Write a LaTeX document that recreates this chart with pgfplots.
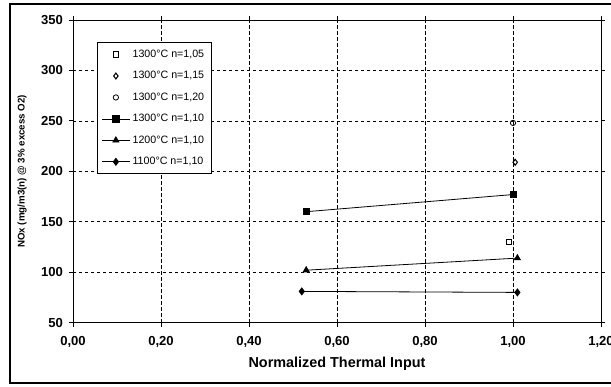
\documentclass[border=0pt]{standalone}
\usepackage{pgfplots}
\pgfplotsset{compat=1.18}
\usepackage{fontspec}
\setmainfont{Liberation Sans}
\begin{document}
\begin{tikzpicture}
\useasboundingbox (-54.75pt,-48pt) rectangle (403.5pt,242pt);
\draw[line width=1.3pt] (-47.5pt,-45pt) rectangle (420pt,239pt);
\begin{axis}[
  scale only axis, width=396pt, height=227pt,
  xmin=0, xmax=1.2, ymin=50, ymax=350,
  xtick={0,0.2,...,1.2}, ytick={50,100,...,350},
  grid=major,
  major grid style={black, dash pattern=on 2.5pt off 2pt, line width=0.5pt},
  axis line style={black, line width=0.7pt},
  tick align=outside, major tick length=3pt,
  tick style={black, line width=0.6pt},
  xticklabel style={/pgf/number format/.cd, use comma, fixed, fixed zerofill, precision=2},
  xticklabel shift=4pt,
  yticklabel shift=1pt,
  /pgf/number format/assume math mode=true,
  ticklabel style={font=\bfseries\fontsize{9.8}{11}\selectfont},
  xlabel={\bfseries Normalized Thermal Input},
  ylabel={\bfseries NOx (mg/m3(n) @ 3\% excess O2)},
  xlabel style={font=\fontsize{10.8}{12}\selectfont, yshift=0pt},
  ylabel style={font=\fontsize{7.3}{9}\selectfont, yshift=4pt},
  legend style={at={(0.045,0.927)}, anchor=north west, draw=black, line width=0.6pt,
    font=\fontsize{8}{9.5}\selectfont, row sep=5pt, inner sep=3.5pt,
    cells={anchor=west}},
  legend image code/.code={
    \draw[mark repeat=2,mark phase=2] plot coordinates {(0cm,0cm) (0.36cm,0cm) (0.72cm,0cm)};},
]
\addplot[only marks, mark=square, mark size=2pt, black, line width=0.6pt] coordinates {(0.99,130)};
\addlegendentry{1300°C n=1,05}
\addplot[only marks, mark=diamond, mark size=2.2pt, black, line width=0.8pt] coordinates {(1.005,209)};
\addlegendentry{1300°C n=1,15}
\addplot[only marks, mark=o, mark size=2pt, black, line width=0.6pt] coordinates {(1.0,248)};
\addlegendentry{1300°C n=1,20}
\addplot[black, line width=0.6pt, mark=square*, mark size=2.3pt] coordinates {(0.53,160) (1.0,177)};
\addlegendentry{1300°C n=1,10}
\addplot[black, line width=0.6pt, mark=triangle*, mark size=2.6pt] coordinates {(0.53,102) (1.01,114)};
\addlegendentry{1200°C n=1,10}
\addplot[black, line width=0.6pt, mark=diamond*, mark size=2.6pt] coordinates {(0.52,81) (1.01,80)};
\addlegendentry{1100°C n=1,10}
\end{axis}
\end{tikzpicture}
\end{document}
